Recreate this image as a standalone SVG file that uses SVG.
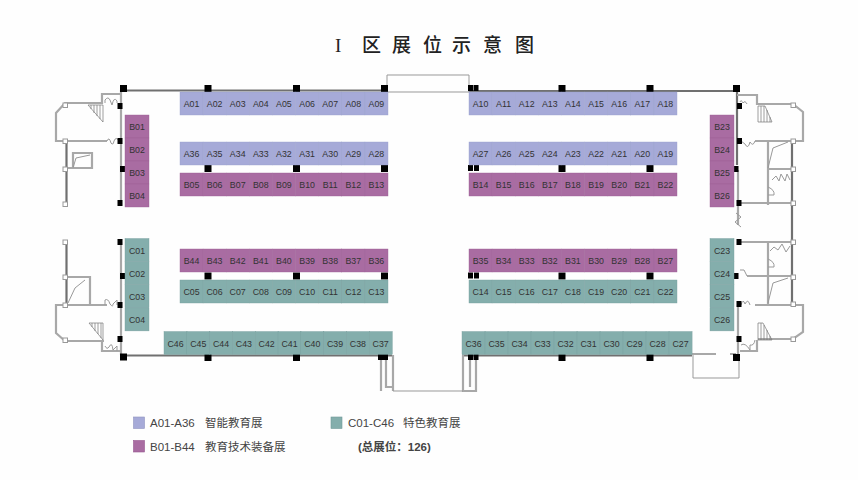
<svg xmlns="http://www.w3.org/2000/svg" width="858" height="480" viewBox="0 0 858 480">
<style>
.s rect{width:23.1px;height:23px;stroke-width:.4}
.s text{font:8.800px "Liberation Sans",Arial,sans-serif;fill:#333;text-anchor:middle}
.col rect{width:24px}
.a rect{fill:#a6aad8;stroke:#9aa0cc}
.b rect{fill:#a96ca2;stroke:#9c5f95}
.c rect{fill:#84aeac;stroke:#789f9e}
.w{fill:none;stroke:#a8a8a8;stroke-width:2.2}
.d{fill:none;stroke:#707070;stroke-width:2.2}
.t{fill:none;stroke:#999;stroke-width:1}
.h{fill:none;stroke:#777;stroke-width:.7}
.k{fill:#000;width:7px;height:7px}
.k2{fill:#000;width:5px;height:6px}
.o{fill:#fff;stroke:#999;stroke-width:1;width:4.500px;height:4.500px}
.l{font:11.500px "Liberation Sans","Noto Sans CJK SC",sans-serif;fill:#444}
</style>
<rect width="858" height="480" fill="#fefefe"/>
<text x="335 350 362 392 423 452 483 515" y="52" font-family="'Liberation Serif','Noto Sans CJK SC',sans-serif" font-size="19" font-weight="500" fill="#222">I 区展位示意图</text>
<g id="walls">
<path class="d" d="M123 90.500H385M469 91H736M737 90V165M123 355.500H392M462 355.500H692M66.500 141V204M66.500 242V305M792 141V305"/>
<path class="w" d="M121 90V205M121 242V355M768 141V205M768 242V305M121 94H102V103H65L56 113V141H107M66 168H92V153H73V168M104 341H65L56 333V305H107M66 277H90V305M121 351H102V341M737 95H757V104H793L803 112V141H755M768 169H792M739 203H793M737 242H793M738 170V225M747 276H793M755 305H803V332L793 339H758M740 351H757V340M667 354H716M730 354H736M738 305V357M381 355V391M386 355V387H393M393 355V391M463 355V391H476V355M470 355V387"/>
<path class="t" d="M387 92V75H469V92H387M393 391H463M693 355V378H739V358M68 303L75 288L85 280M73 168L76 158L90 155M768 168L773 148L788 142M768 303L773 283L788 278M768 187Q775 190 774 195H768M768 259Q775 262 774 267H768"/>
<path class="t" d="M105 103V100Q108 96 110 100L112 105Q114 96 117 101V103M107 141Q109 136 111 143Q113 146 114 141Q116 136 119 141M105 305V300Q108 298 110 304Q113 308 113 304L117 300V305M105 346Q107 350 109 347Q112 341 113 350L117 346V351M747 104Q745 100 743 103Q741 99 740 102M755 141Q753 147 750 142Q748 150 745 144L741 141M750 305Q748 298 745 304Q743 298 741 305M755 340Q754 346 750 345V350Q745 342 741 345M772 180L776 176L779 181L781 174L785 181L787 174L790 180M770 251L774 247L778 250L782 244L786 252L790 246M740 270H744L747 276M736 213L741 217L735 222L741 227"/>
<path class="h" d="M88 105H103V122L88 105M91 105V109M94 105V113M97 105V116M100 105V119M89 323H103V340L89 323M92 323V327M95 323V331M98 323V334M101 323V338M758 106H765L772 122H758ZM761 106V122M764 106V122M767 110V122M770 117V122M758 323H763L772 340H758ZM761 323V340M764 325V340M767 330V340M770 336V340"/>
<rect class="k" x="120" y="85"/><rect class="k" x="204.500" y="85"/><rect class="k" x="293" y="85"/><rect class="k" x="381" y="85"/>
<rect class="k2" x="468" y="85"/><rect class="k2" x="473.500" y="85"/><rect class="k" x="558.500" y="85"/><rect class="k" x="646.500" y="85"/><rect class="k" x="733" y="85"/>
<rect class="k" x="204.500" y="165"/><rect class="k" x="293" y="165"/><rect class="k" x="381" y="165"/><rect class="k2" x="468" y="165"/><rect class="k2" x="474" y="165"/><rect class="k" x="558.500" y="165"/><rect class="k" x="646.500" y="165"/>
<rect class="k" x="204.500" y="272.500"/><rect class="k" x="293" y="272.500"/><rect class="k" x="381" y="272.500"/><rect class="k2" x="468" y="272.500"/><rect class="k2" x="474" y="272.500"/><rect class="k" x="558.500" y="272.500"/><rect class="k" x="646.500" y="272.500"/>
<rect class="k" x="120" y="353.500"/><rect class="k" x="204.500" y="354"/><rect class="k" x="293" y="354"/><rect class="k2" x="378" y="354"/><rect class="k2" x="383" y="354"/><rect class="k2" x="468" y="354"/><rect class="k2" x="473.500" y="354"/><rect class="k" x="558.500" y="354"/><rect class="k" x="646.500" y="354"/><rect class="k" x="733" y="354"/>
<rect class="k2" x="117.500" y="103"/><rect class="k2" x="117.500" y="138"/><rect class="k2" x="120" y="166"/><rect class="k2" x="117.500" y="200"/><rect class="k2" x="117.500" y="239"/><rect class="k2" x="120" y="273"/><rect class="k2" x="117.500" y="302"/><rect class="k2" x="117.500" y="336"/>
<rect class="k2" x="737" y="103"/><rect class="k2" x="737" y="138"/><rect class="k2" x="733.500" y="166"/><rect class="k2" x="736.500" y="200"/><rect class="k2" x="736.500" y="239"/><rect class="k2" x="733.500" y="273"/><rect class="k2" x="736.500" y="301"/><rect class="k2" x="736.500" y="336"/>
<rect class="o" x="63" y="103"/><rect class="o" x="63" y="139"/><rect class="o" x="63" y="167"/><rect class="o" x="63" y="202"/><rect class="o" x="63" y="240"/><rect class="o" x="63" y="275"/><rect class="o" x="63" y="303"/><rect class="o" x="63" y="338"/>
<rect class="o" x="791" y="103"/><rect class="o" x="791" y="139"/><rect class="o" x="791" y="167"/><rect class="o" x="791" y="201"/><rect class="o" x="791" y="240"/><rect class="o" x="791" y="275"/><rect class="o" x="791" y="302"/><rect class="o" x="791" y="337"/>
</g>
<g id="stalls" class="s">
<g class="a">
<g id="A01" transform="translate(180 92)"><rect/><text x="11.500" y="15">A01</text></g>
<g id="A02" transform="translate(203.100 92)"><rect/><text x="11.500" y="15">A02</text></g>
<g id="A03" transform="translate(226.200 92)"><rect/><text x="11.500" y="15">A03</text></g>
<g id="A04" transform="translate(249.300 92)"><rect/><text x="11.500" y="15">A04</text></g>
<g id="A05" transform="translate(272.400 92)"><rect/><text x="11.500" y="15">A05</text></g>
<g id="A06" transform="translate(295.600 92)"><rect/><text x="11.500" y="15">A06</text></g>
<g id="A07" transform="translate(318.700 92)"><rect/><text x="11.500" y="15">A07</text></g>
<g id="A08" transform="translate(341.800 92)"><rect/><text x="11.500" y="15">A08</text></g>
<g id="A09" transform="translate(364.900 92)"><rect/><text x="11.500" y="15">A09</text></g>
<g id="A10" transform="translate(469 92)"><rect/><text x="11.500" y="15">A10</text></g>
<g id="A11" transform="translate(492.100 92)"><rect/><text x="11.500" y="15">A11</text></g>
<g id="A12" transform="translate(515.200 92)"><rect/><text x="11.500" y="15">A12</text></g>
<g id="A13" transform="translate(538.300 92)"><rect/><text x="11.500" y="15">A13</text></g>
<g id="A14" transform="translate(561.400 92)"><rect/><text x="11.500" y="15">A14</text></g>
<g id="A15" transform="translate(584.600 92)"><rect/><text x="11.500" y="15">A15</text></g>
<g id="A16" transform="translate(607.700 92)"><rect/><text x="11.500" y="15">A16</text></g>
<g id="A17" transform="translate(630.800 92)"><rect/><text x="11.500" y="15">A17</text></g>
<g id="A18" transform="translate(653.900 92)"><rect/><text x="11.500" y="15">A18</text></g>
<g id="A36" transform="translate(180 142)"><rect/><text x="11.500" y="15">A36</text></g>
<g id="A35" transform="translate(203.100 142)"><rect/><text x="11.500" y="15">A35</text></g>
<g id="A34" transform="translate(226.200 142)"><rect/><text x="11.500" y="15">A34</text></g>
<g id="A33" transform="translate(249.300 142)"><rect/><text x="11.500" y="15">A33</text></g>
<g id="A32" transform="translate(272.400 142)"><rect/><text x="11.500" y="15">A32</text></g>
<g id="A31" transform="translate(295.600 142)"><rect/><text x="11.500" y="15">A31</text></g>
<g id="A30" transform="translate(318.700 142)"><rect/><text x="11.500" y="15">A30</text></g>
<g id="A29" transform="translate(341.800 142)"><rect/><text x="11.500" y="15">A29</text></g>
<g id="A28" transform="translate(364.900 142)"><rect/><text x="11.500" y="15">A28</text></g>
<g id="A27" transform="translate(469 142)"><rect/><text x="11.500" y="15">A27</text></g>
<g id="A26" transform="translate(492.100 142)"><rect/><text x="11.500" y="15">A26</text></g>
<g id="A25" transform="translate(515.200 142)"><rect/><text x="11.500" y="15">A25</text></g>
<g id="A24" transform="translate(538.300 142)"><rect/><text x="11.500" y="15">A24</text></g>
<g id="A23" transform="translate(561.400 142)"><rect/><text x="11.500" y="15">A23</text></g>
<g id="A22" transform="translate(584.600 142)"><rect/><text x="11.500" y="15">A22</text></g>
<g id="A21" transform="translate(607.700 142)"><rect/><text x="11.500" y="15">A21</text></g>
<g id="A20" transform="translate(630.800 142)"><rect/><text x="11.500" y="15">A20</text></g>
<g id="A19" transform="translate(653.900 142)"><rect/><text x="11.500" y="15">A19</text></g>
</g>
<g class="b">
<g id="B05" transform="translate(180 173)"><rect/><text x="11.500" y="15">B05</text></g>
<g id="B06" transform="translate(203.100 173)"><rect/><text x="11.500" y="15">B06</text></g>
<g id="B07" transform="translate(226.200 173)"><rect/><text x="11.500" y="15">B07</text></g>
<g id="B08" transform="translate(249.300 173)"><rect/><text x="11.500" y="15">B08</text></g>
<g id="B09" transform="translate(272.400 173)"><rect/><text x="11.500" y="15">B09</text></g>
<g id="B10" transform="translate(295.600 173)"><rect/><text x="11.500" y="15">B10</text></g>
<g id="B11" transform="translate(318.700 173)"><rect/><text x="11.500" y="15">B11</text></g>
<g id="B12" transform="translate(341.800 173)"><rect/><text x="11.500" y="15">B12</text></g>
<g id="B13" transform="translate(364.900 173)"><rect/><text x="11.500" y="15">B13</text></g>
<g id="B14" transform="translate(469 173)"><rect/><text x="11.500" y="15">B14</text></g>
<g id="B15" transform="translate(492.100 173)"><rect/><text x="11.500" y="15">B15</text></g>
<g id="B16" transform="translate(515.200 173)"><rect/><text x="11.500" y="15">B16</text></g>
<g id="B17" transform="translate(538.300 173)"><rect/><text x="11.500" y="15">B17</text></g>
<g id="B18" transform="translate(561.400 173)"><rect/><text x="11.500" y="15">B18</text></g>
<g id="B19" transform="translate(584.600 173)"><rect/><text x="11.500" y="15">B19</text></g>
<g id="B20" transform="translate(607.700 173)"><rect/><text x="11.500" y="15">B20</text></g>
<g id="B21" transform="translate(630.800 173)"><rect/><text x="11.500" y="15">B21</text></g>
<g id="B22" transform="translate(653.900 173)"><rect/><text x="11.500" y="15">B22</text></g>
<g id="B44" transform="translate(180 249)"><rect/><text x="11.500" y="15">B44</text></g>
<g id="B43" transform="translate(203.100 249)"><rect/><text x="11.500" y="15">B43</text></g>
<g id="B42" transform="translate(226.200 249)"><rect/><text x="11.500" y="15">B42</text></g>
<g id="B41" transform="translate(249.300 249)"><rect/><text x="11.500" y="15">B41</text></g>
<g id="B40" transform="translate(272.400 249)"><rect/><text x="11.500" y="15">B40</text></g>
<g id="B39" transform="translate(295.600 249)"><rect/><text x="11.500" y="15">B39</text></g>
<g id="B38" transform="translate(318.700 249)"><rect/><text x="11.500" y="15">B38</text></g>
<g id="B37" transform="translate(341.800 249)"><rect/><text x="11.500" y="15">B37</text></g>
<g id="B36" transform="translate(364.900 249)"><rect/><text x="11.500" y="15">B36</text></g>
<g id="B35" transform="translate(469 249)"><rect/><text x="11.500" y="15">B35</text></g>
<g id="B34" transform="translate(492.100 249)"><rect/><text x="11.500" y="15">B34</text></g>
<g id="B33" transform="translate(515.200 249)"><rect/><text x="11.500" y="15">B33</text></g>
<g id="B32" transform="translate(538.300 249)"><rect/><text x="11.500" y="15">B32</text></g>
<g id="B31" transform="translate(561.400 249)"><rect/><text x="11.500" y="15">B31</text></g>
<g id="B30" transform="translate(584.600 249)"><rect/><text x="11.500" y="15">B30</text></g>
<g id="B29" transform="translate(607.700 249)"><rect/><text x="11.500" y="15">B29</text></g>
<g id="B28" transform="translate(630.800 249)"><rect/><text x="11.500" y="15">B28</text></g>
<g id="B27" transform="translate(653.900 249)"><rect/><text x="11.500" y="15">B27</text></g>
<g class="col">
<g id="B01" transform="translate(125 115)"><rect/><text x="12" y="15">B01</text></g>
<g id="B02" transform="translate(125 138)"><rect/><text x="12" y="15">B02</text></g>
<g id="B03" transform="translate(125 161)"><rect/><text x="12" y="15">B03</text></g>
<g id="B04" transform="translate(125 184)"><rect/><text x="12" y="15">B04</text></g>
<g id="B23" transform="translate(710 115)"><rect/><text x="12" y="15">B23</text></g>
<g id="B24" transform="translate(710 138)"><rect/><text x="12" y="15">B24</text></g>
<g id="B25" transform="translate(710 161)"><rect/><text x="12" y="15">B25</text></g>
<g id="B26" transform="translate(710 184)"><rect/><text x="12" y="15">B26</text></g>
</g>
</g>
<g class="c">
<g id="C05" transform="translate(180 280)"><rect/><text x="11.500" y="15">C05</text></g>
<g id="C06" transform="translate(203.100 280)"><rect/><text x="11.500" y="15">C06</text></g>
<g id="C07" transform="translate(226.200 280)"><rect/><text x="11.500" y="15">C07</text></g>
<g id="C08" transform="translate(249.300 280)"><rect/><text x="11.500" y="15">C08</text></g>
<g id="C09" transform="translate(272.400 280)"><rect/><text x="11.500" y="15">C09</text></g>
<g id="C10" transform="translate(295.600 280)"><rect/><text x="11.500" y="15">C10</text></g>
<g id="C11" transform="translate(318.700 280)"><rect/><text x="11.500" y="15">C11</text></g>
<g id="C12" transform="translate(341.800 280)"><rect/><text x="11.500" y="15">C12</text></g>
<g id="C13" transform="translate(364.900 280)"><rect/><text x="11.500" y="15">C13</text></g>
<g id="C14" transform="translate(469 280)"><rect/><text x="11.500" y="15">C14</text></g>
<g id="C15" transform="translate(492.100 280)"><rect/><text x="11.500" y="15">C15</text></g>
<g id="C16" transform="translate(515.200 280)"><rect/><text x="11.500" y="15">C16</text></g>
<g id="C17" transform="translate(538.300 280)"><rect/><text x="11.500" y="15">C17</text></g>
<g id="C18" transform="translate(561.400 280)"><rect/><text x="11.500" y="15">C18</text></g>
<g id="C19" transform="translate(584.600 280)"><rect/><text x="11.500" y="15">C19</text></g>
<g id="C20" transform="translate(607.700 280)"><rect/><text x="11.500" y="15">C20</text></g>
<g id="C21" transform="translate(630.800 280)"><rect/><text x="11.500" y="15">C21</text></g>
<g id="C22" transform="translate(653.900 280)"><rect/><text x="11.500" y="15">C22</text></g>
<g id="C46" transform="translate(164 331.500)"><rect/><text x="11.500" y="15">C46</text></g>
<g id="C45" transform="translate(186.800 331.500)"><rect/><text x="11.500" y="15">C45</text></g>
<g id="C44" transform="translate(209.600 331.500)"><rect/><text x="11.500" y="15">C44</text></g>
<g id="C43" transform="translate(232.400 331.500)"><rect/><text x="11.500" y="15">C43</text></g>
<g id="C42" transform="translate(255.200 331.500)"><rect/><text x="11.500" y="15">C42</text></g>
<g id="C41" transform="translate(278 331.500)"><rect/><text x="11.500" y="15">C41</text></g>
<g id="C40" transform="translate(300.800 331.500)"><rect/><text x="11.500" y="15">C40</text></g>
<g id="C39" transform="translate(323.600 331.500)"><rect/><text x="11.500" y="15">C39</text></g>
<g id="C38" transform="translate(346.400 331.500)"><rect/><text x="11.500" y="15">C38</text></g>
<g id="C37" transform="translate(369.200 331.500)"><rect/><text x="11.500" y="15">C37</text></g>
<g id="C36" transform="translate(462 331.500)"><rect/><text x="11.500" y="15">C36</text></g>
<g id="C35" transform="translate(485 331.500)"><rect/><text x="11.500" y="15">C35</text></g>
<g id="C34" transform="translate(508 331.500)"><rect/><text x="11.500" y="15">C34</text></g>
<g id="C33" transform="translate(531 331.500)"><rect/><text x="11.500" y="15">C33</text></g>
<g id="C32" transform="translate(554 331.500)"><rect/><text x="11.500" y="15">C32</text></g>
<g id="C31" transform="translate(577 331.500)"><rect/><text x="11.500" y="15">C31</text></g>
<g id="C30" transform="translate(600 331.500)"><rect/><text x="11.500" y="15">C30</text></g>
<g id="C29" transform="translate(623 331.500)"><rect/><text x="11.500" y="15">C29</text></g>
<g id="C28" transform="translate(646 331.500)"><rect/><text x="11.500" y="15">C28</text></g>
<g id="C27" transform="translate(669 331.500)"><rect/><text x="11.500" y="15">C27</text></g>
<g class="col">
<g id="C01" transform="translate(125 238.500)"><rect/><text x="12" y="15">C01</text></g>
<g id="C02" transform="translate(125 261.600)"><rect/><text x="12" y="15">C02</text></g>
<g id="C03" transform="translate(125 284.800)"><rect/><text x="12" y="15">C03</text></g>
<g id="C04" transform="translate(125 307.900)"><rect/><text x="12" y="15">C04</text></g>
<g id="C23" transform="translate(710 238.500)"><rect/><text x="12" y="15">C23</text></g>
<g id="C24" transform="translate(710 261.600)"><rect/><text x="12" y="15">C24</text></g>
<g id="C25" transform="translate(710 284.800)"><rect/><text x="12" y="15">C25</text></g>
<g id="C26" transform="translate(710 307.900)"><rect/><text x="12" y="15">C26</text></g>
</g>
</g>
</g>
<g id="legend">
<rect x="133.500" y="417" width="11" height="11.500" fill="#a6aad8" stroke="#8f93c0" stroke-width=".6"/>
<text class="l" x="150" y="427">A01-A36</text><text class="l" x="205" y="427">智能教育展</text>
<rect x="133.500" y="440.500" width="11" height="11.500" fill="#a96ca2" stroke="#96588f" stroke-width=".6"/>
<text class="l" x="150" y="450.500">B01-B44</text><text class="l" x="205" y="450.500">教育技术装备展</text>
<rect x="331" y="417" width="11" height="11.500" fill="#84aeac" stroke="#72999a" stroke-width=".6"/>
<text class="l" x="348" y="427">C01-C46</text><text class="l" x="403" y="427">特色教育展</text>
<text class="l" x="358" y="450.500" style="font-weight:bold">(总展位：126)</text>
</g>
</svg>
